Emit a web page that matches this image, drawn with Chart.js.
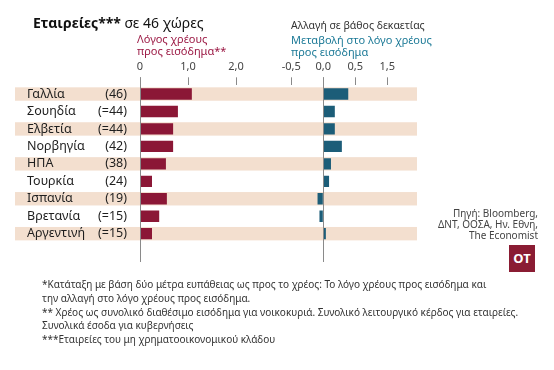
<!DOCTYPE html>
<html>
<head>
<meta charset="utf-8">
<script src="https://cdn.jsdelivr.net/npm/chart.js@4.4.1/dist/chart.umd.min.js"></script>
<style>
  body { margin: 0; background: #fff; font-family: "Noto Sans", sans-serif; }
  #wrap { position: relative; width: 554px; height: 370px; overflow: hidden; }
  canvas { position: absolute; left: 0; top: 0; }
  .t { position: absolute; white-space: nowrap; }
  #title { left: 33px; top: 13px; font-size: 14px; color: #111; }
  #title b { font-weight: 700; }
  #lhead { left: 137px; top: 33px; font-size: 11px; line-height: 12px; color: #9c1a45; }
  #rtop { left: 291px; top: 18px; font-size: 10.5px; color: #333; }
  #rhead { left: 291px; top: 34px; font-size: 11px; line-height: 12px; color: #1d7a97; }
  #source { right: 16px; top: 208px; font-size: 10px; line-height: 11px; color: #444; text-align: right; }
  #logo { left: 509px; top: 245px; width: 26px; height: 27px; background: #8a1c33; color: #fff;
          font-weight: 700; font-size: 13px; line-height: 27px; text-align: center; }
  #notes { left: 42px; top: 278px; font-size: 10px; line-height: 13.8px; color: #333; }
</style>
</head>
<body>
<div id="wrap">
  <canvas id="leftChart" width="554" height="370"></canvas>
  <canvas id="rightChart" width="554" height="370"></canvas>
  <div class="t" id="title"><b>Εταιρείες***</b> σε 46 χώρες</div>
  <div class="t" id="lhead">Λόγος χρέους<br>προς εισόδημα**</div>
  <div class="t" id="rtop">Αλλαγή σε βάθος δεκαετίας</div>
  <div class="t" id="rhead">Μεταβολή στο λόγο χρέους<br>προς εισόδημα</div>
  <div class="t" id="source">Πηγή: Bloomberg,<br>ΔΝΤ, ΟΟΣΑ, Ην. Εθνη,<br>The Economist</div>
  <div class="t" id="logo">OT</div>
  <div class="t" id="notes">*Κατάταξη με βάση δύο μέτρα ευπάθειας ως προς το χρέος: Το λόγο χρέους προς εισόδημα και<br>την αλλαγή στο λόγο χρέους προς εισόδημα.<br>** Χρέος ως συνολικό διαθέσιμο εισόδημα για νοικοκυριά. Συνολικό λειτουργικό κέρδος για εταιρείες.<br>Συνολικά έσοδα για κυβερνήσεις<br>***Εταιρείες του μη χρηματοοικονομικού κλάδου</div>
</div>
<script>
// data
const countries = ['Γαλλία', 'Σουηδία', 'Ελβετία', 'Νορβηγία', 'ΗΠΑ', 'Τουρκία', 'Ισπανία', 'Βρετανία', 'Αργεντινή'];
const ranks = ['(46)', '(=44)', '(=44)', '(42)', '(38)', '(24)', '(19)', '(=15)', '(=15)'];
const debtRatio = [1.08, 0.79, 0.69, 0.69, 0.54, 0.25, 0.56, 0.40, 0.25];
const debtChange = [0.39, 0.18, 0.18, 0.29, 0.12, 0.09, -0.09, -0.06, 0.04];
const leftTicks = [0, 1, 2];
const leftTickLabels = ['0', '1,0', '2,0'];
const rightTicks = [-0.5, 0, 0.5, 1];
const rightTickLabels = ['-0,5', '0,0', '0,5', '1,5']; // as printed in the original

const AXIS_GREY = '#8a8a8a';

// zero line from the tick marks down past the last row
const zeroLine = {
  id: 'zeroLine',
  afterDatasetsDraw(chart) {
    const x = Math.round(chart.scales.x.getPixelForValue(0)) + 0.5;
    const ctx = chart.ctx;
    ctx.save();
    ctx.strokeStyle = AXIS_GREY;
    ctx.lineWidth = 1;
    ctx.beginPath();
    ctx.moveTo(x, chart.chartArea.top - 8);
    ctx.lineTo(x, 262);
    ctx.stroke();
    ctx.restore();
  }
};

// shaded rows and the country / rank labels
const rows = {
  id: 'rows',
  beforeDatasetsDraw(chart) {
    const y = chart.scales.y;
    const ctx = chart.ctx;
    ctx.save();
    ctx.fillStyle = '#f3dfcf';
    countries.forEach((c, i) => {
      if (i % 2) return;
      const yc = y.getPixelForValue(i);
      ctx.fillRect(15, yc - 6.7, 402, 13.4);
    });
    ctx.font = '12.5px "Noto Sans"';
    ctx.fillStyle = '#1e1e1e';
    ctx.textBaseline = 'middle';
    countries.forEach((c, i) => {
      const yc = y.getPixelForValue(i);
      ctx.textAlign = 'left';
      ctx.fillText(c, 27, yc);
      ctx.textAlign = 'right';
      ctx.fillText(ranks[i], 127, yc);
    });
    ctx.restore();
  }
};

function makeChart(id, values, color, min, max, ticks, labels, pad, extra) {
  return new Chart(document.getElementById(id), {
    type: 'bar',
    data: {
      labels: countries,
      datasets: [{ data: values, backgroundColor: color, borderWidth: 0,
                   categoryPercentage: 0.65, barPercentage: 1 }]
    },
    options: {
      indexAxis: 'y',
      responsive: false,
      animation: false,
      devicePixelRatio: 1,
      layout: { padding: pad },
      plugins: { legend: { display: false }, tooltip: { enabled: false } },
      scales: {
        y: { display: false },
        x: {
          position: 'top',
          min: min, max: max,
          afterBuildTicks: s => { s.ticks = ticks.map(v => ({ value: v })); },
          afterFit: s => { s.height = 30; },
          ticks: {
            callback: (v) => labels[ticks.indexOf(v)],
            font: { family: 'Noto Sans', size: 11 },
            color: '#444',
            padding: 4,
            maxRotation: 0
          },
          grid: { drawOnChartArea: false, tickLength: 8, tickColor: AXIS_GREY },
          border: { display: false }
        }
      }
    },
    plugins: extra
  });
}

// left panel: 0 at x=140, 48 px per unit
makeChart('leftChart', debtRatio, '#8b1736', 0, 2.1, leftTicks, leftTickLabels,
  { left: 140, right: 313.2, top: 55.3, bottom: 127.6 }, [rows, zeroLine]);
// right panel: 0 at x=323.3, 64 px per unit
makeChart('rightChart', debtChange, '#1c5d78', -0.6, 1.5, rightTicks, rightTickLabels,
  { left: 284.9, right: 134.7, top: 55.3, bottom: 127.6 }, [zeroLine]);
</script>
</body>
</html>
